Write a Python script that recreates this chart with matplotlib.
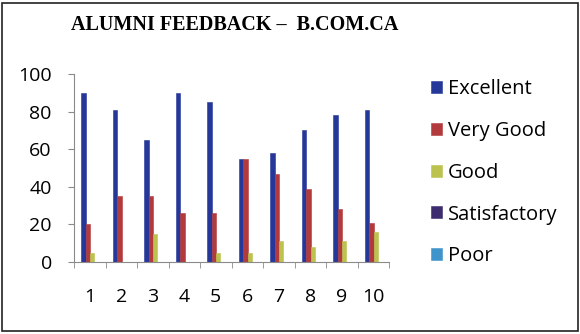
import numpy as np
import matplotlib
matplotlib.use("Agg")
import matplotlib.pyplot as plt
from matplotlib.patches import Rectangle

# survey rounds 1..10
categories = [str(i) for i in range(1, 11)]
series_names = ["Excellent", "Very Good", "Good", "Satisfactory", "Poor"]
excellent = [90, 81, 65, 90, 85, 55, 58, 70, 78, 81]
very_good = [20, 35, 35, 26, 26, 55, 47, 39, 28, 21]
good = [5, 0, 15, 0, 5, 5, 11, 8, 11, 16]
satisfactory = [0, 0, 0, 0, 0, 0, 0, 0, 0, 0]
poor = [0, 0, 0, 0, 0, 0, 0, 0, 0, 0]
colors = ["#26379a", "#b23a3c", "#bcc24e", "#3d2c6e", "#3f94cc"]

fig = plt.figure(figsize=(5.8, 3.34), dpi=100)
ax = fig.add_axes([0.1276, 0.2156, 0.6707 - 0.1276, 0.7784 - 0.2156])

x = np.arange(1, len(categories) + 1)
w = 0.14
for i, (vals, name, c) in enumerate(zip([excellent, very_good, good, satisfactory, poor],
                                        series_names, colors)):
    ax.bar(x + (i - 2) * w + 0.08, vals, width=w, color=c, label=name,
           edgecolor=c, linewidth=0.4)

ax.set_xlim(0.5, len(categories) + 0.5)
ax.set_ylim(0, 100)
ax.set_yticks(range(0, 101, 20))
ax.set_xticks(x)
ax.set_xticklabels(categories)
ax.set_xticks(np.arange(0.5, len(categories) + 1, 1), minor=True)

for s in ["top", "right"]:
    ax.spines[s].set_visible(False)
for s in ["left", "bottom"]:
    ax.spines[s].set_color("#8a8a8a")
    ax.spines[s].set_linewidth(0.8)

ax.tick_params(axis="x", which="major", length=0, pad=19, labelsize=14)
ax.tick_params(axis="x", which="minor", length=4, color="#8a8a8a", direction="out")
ax.tick_params(axis="y", length=4, color="#8a8a8a", pad=12, labelsize=14)
for lab in ax.get_xticklabels() + ax.get_yticklabels():
    lab.set_fontfamily("Open Sans")

fig.text(0.405, 0.925, "ALUMNI FEEDBACK \u2013  B.COM.CA", ha="center", va="center",
         fontsize=14.5, fontweight="bold", family="Liberation Serif")

leg = ax.legend(loc="upper left", bbox_to_anchor=(1.107, 1.015), frameon=False,
                prop={"family": "Open Sans", "size": 14.5}, handlelength=0.55,
                handleheight=0.55, handletextpad=0.3, labelspacing=1.08,
                borderaxespad=0)

fig.patches.append(Rectangle((0.004, 0.01), 0.992, 0.982, transform=fig.transFigure,
                             fill=False, edgecolor="#222222", linewidth=1.2))

fig.savefig("out.png", dpi=100)
